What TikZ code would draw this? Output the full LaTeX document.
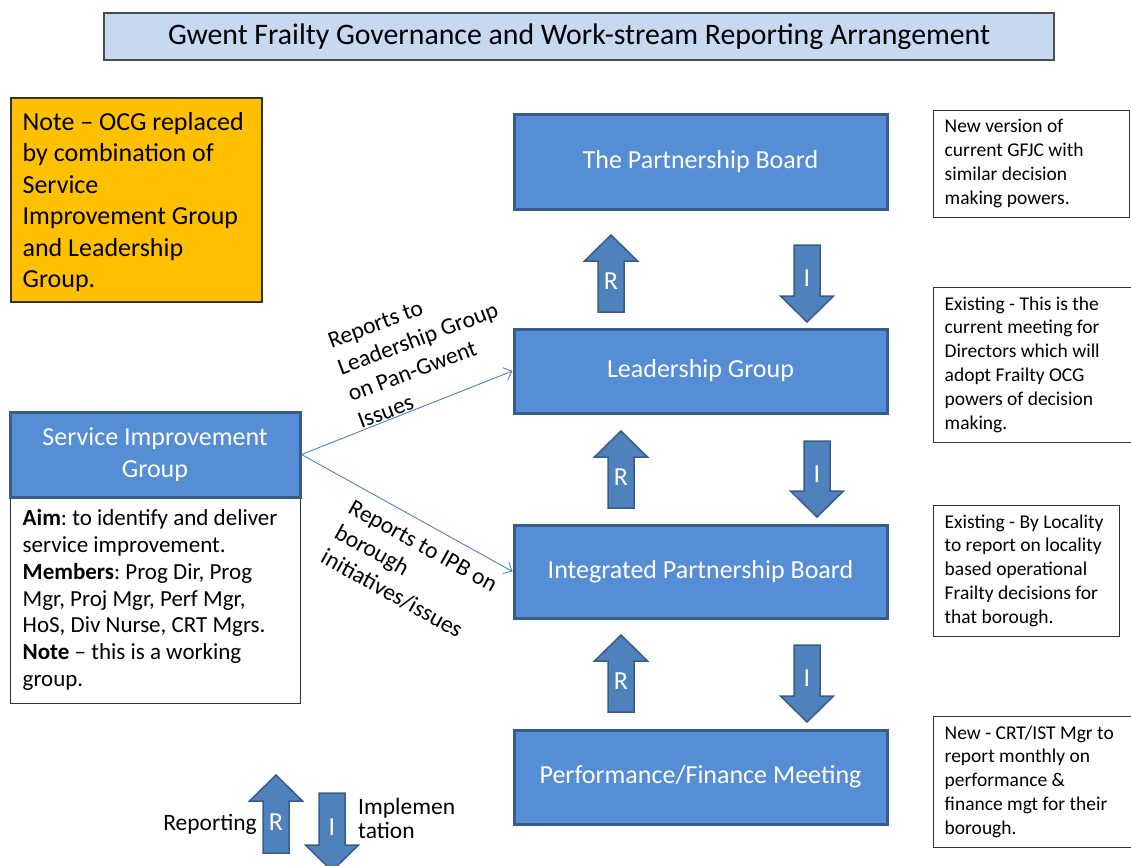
\documentclass[tikz,border=0pt]{standalone}
\usepackage{fontspec}
\setmainfont{Carlito}
\usetikzlibrary{arrows.meta}
\frenchspacing

\definecolor{boxblue}{HTML}{558ED5}
\definecolor{boxedge}{HTML}{385D8A}
\definecolor{arrblue}{HTML}{4F81BD}
\definecolor{titleblue}{HTML}{C6D9F1}
\definecolor{noteorange}{HTML}{FFC000}

% block arrows: x, tip/top y, bottom/tip y, name
\newcommand{\rarr}[4]{%
  \draw[blockarr] (#1,#2) -- (#1+26.5,#2+26) -- (#1+13,#2+26) -- (#1+13,#3)
    -- (#1-13,#3) -- (#1-13,#2+26) -- (#1-26.5,#2+26) -- cycle;
  \node[arrtext] (#4) at (#1,{(#2+26+#3)/2-5}) {R};}
\newcommand{\iarr}[4]{%
  \draw[blockarr] (#1,#3) -- (#1+26.5,#3-26) -- (#1+13,#3-26) -- (#1+13,#2)
    -- (#1-13,#2) -- (#1-13,#3-26) -- (#1-26.5,#3-26) -- cycle;
  \node[arrtext] (#4) at (#1,{(#2+#3-26)/2+8}) {I};}

\begin{document}
\begin{tikzpicture}[x=1pt,y=-1pt,
  board/.style={draw=boxedge, fill=boxblue, line width=3pt, text=white,
    minimum width=373pt, font=\fontsize{26}{31.7}\selectfont},
  infobox/.style={draw=black!80, fill=white, line width=1pt},
  boxtext/.style={inner sep=0pt, anchor=west, align=left},
  notefont/.style={font=\fontsize{19.5}{23.8}\selectfont},
  blockarr/.style={fill=arrblue, draw=boxedge, line width=1.5pt, line join=miter},
  arrtext/.style={text=white, inner sep=0pt, font=\fontsize{26}{30}\selectfont},
  link/.style={draw=arrblue, line width=0.9pt, -{Straight Barb[length=7pt,width=13pt]}},
  slant/.style={inner sep=0pt, align=left, font=\fontsize{23.5}{28.5}\selectfont},
  keytext/.style={inner sep=0pt, font=\fontsize{23.5}{24}\selectfont}]
  \useasboundingbox (0,0) rectangle (1131,865);

  % title and note
  \node[draw=black!70, fill=titleblue, line width=1.2pt, minimum width=950pt,
    minimum height=47pt, font=\fontsize{29.8}{36}\selectfont] (title) at (579,36.5)
    {Gwent Frailty Governance and Work-stream Reporting Arrangement};
  \node[draw=black!80, fill=noteorange, line width=1.2pt, minimum width=251pt,
    minimum height=204pt] (ocg) at (136.5,200) {};
  \node[boxtext, font=\fontsize{26}{31.5}\selectfont] (ocgtext) at ([xshift=12pt,yshift=-2pt]ocg.west)
    {Note -- OCG replaced\\by combination of\\Service\\Improvement Group\\and Leadership\\Group.};

  % main boards
  \node[board, minimum height=95pt] (pb) at (700.5,161.5) {The Partnership Board};
  \node[board, minimum height=84pt] (lg) at (700.5,371) {Leadership Group};
  \node[board, minimum height=93pt] (ipb) at (700.5,571.5) {Integrated Partnership Board};
  \node[board, minimum height=94pt] (pfm) at (700.5,777) {Performance/Finance Meeting};

  % service improvement group
  \node[infobox, minimum width=290pt, minimum height=206pt] (sigaim) at (155,600) {};
  \node[boxtext, font=\fontsize{23}{26.8}\selectfont] (sigaimtext) at ([xshift=13pt]sigaim.west)
    {\textbf{Aim}: to identify and deliver\\service improvement.\\
     \textbf{Members}: Prog Dir, Prog\\Mgr, Proj Mgr, Perf Mgr,\\
     HoS, Div Nurse, CRT Mgrs.\\\textbf{Note} -- this is a working\\group.};
  \node[board, minimum width=290pt, minimum height=85pt, align=center] (sig) at (155,454.5)
    {Service Improvement\\Group};

  % side notes
  \node[infobox, minimum width=196pt, minimum height=107pt] (pbnote) at (1031,163.5) {};
  \node[boxtext, notefont] (pbnotetext) at ([xshift=12pt]pbnote.west)
    {New version of\\current GFJC with\\similar decision\\making powers.};
  \node[infobox, minimum width=200pt, minimum height=155pt] (lgnote) at (1033,364.5) {};
  \node[boxtext, notefont] (lgnotetext) at ([xshift=12pt]lgnote.west)
    {Existing - This is the\\current meeting for\\Directors which will\\
    adopt Frailty OCG\\powers of decision\\making.};
  \node[infobox, minimum width=186pt, minimum height=131pt] (ipbnote) at (1026,570.5) {};
  \node[boxtext, notefont] (ipbnotetext) at ([xshift=12pt]ipbnote.west)
    {Existing - By Locality\\to report on locality\\based operational\\
    Frailty decisions for\\that borough.};
  \node[infobox, minimum width=200pt, minimum height=131pt] (pfmnote) at (1033,781.5) {};
  \node[boxtext, notefont] (pfmnotetext) at ([xshift=12pt]pfmnote.west)
    {New - CRT/IST Mgr to\\report monthly on\\performance \&\\
    finance mgt for their\\borough.};

  % reporting / implementation arrows
  \rarr{611}{235}{312}{r1} \iarr{807}{245}{322}{i1}
  \rarr{621}{431}{508}{r2} \iarr{817}{441}{517}{i2}
  \rarr{621}{635}{712}{r3} \iarr{807}{645}{722}{i3}

  % links from the working group
  \draw[link] (sig.east) -- (lg.west);
  \draw[link] (sig.east) -- (ipb.west);
  \node[slant, rotate=20.5] (uplbl) at (423,352)
    {Reports to\\Leadership Group\\on Pan-Gwent\\Issues};
  \node[slant, rotate=-29] (lowlbl) at (409,571)
    {Reports to IPB on\\borough\\initiatives/issues};

  % key
  \rarr{276}{775}{853}{rkey} \iarr{332}{793}{871}{ikey}
  \node[keytext, anchor=base east] (replbl) at (257,830) {Reporting};
  \node[keytext, anchor=west, align=left] (implbl) at (358,818) {Implemen\\tation};
\end{tikzpicture}
\end{document}
